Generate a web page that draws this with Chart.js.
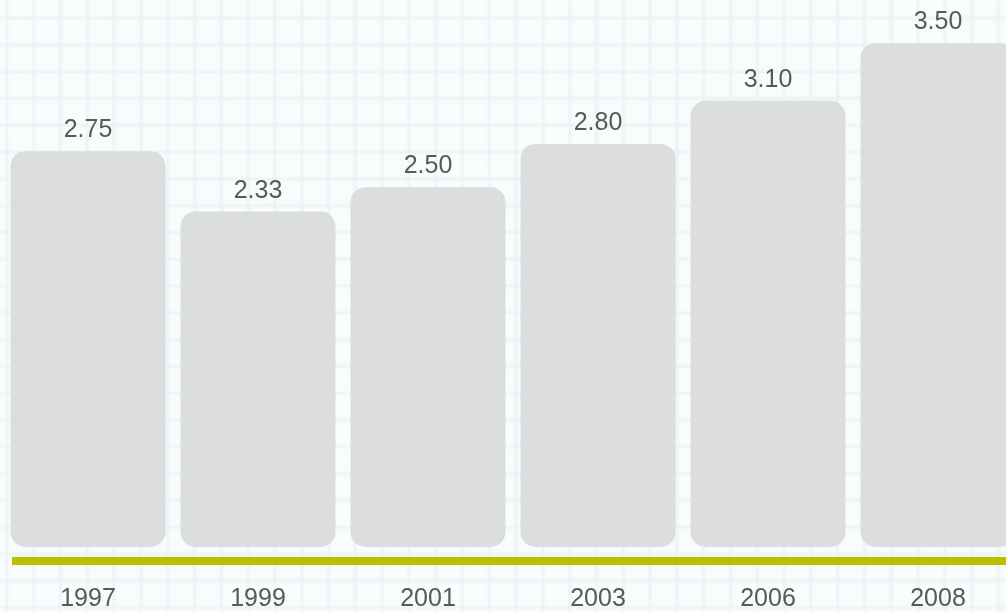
<!DOCTYPE html>
<html>
<head>
<meta charset="utf-8">
<script src="https://cdn.jsdelivr.net/npm/chart.js@4"></script>
<style>
  html, body {
    margin: 0;
    padding: 0;
    overflow: hidden;
    width: 1006px;
    height: 612px;
    background: #f9fcfc;
  }
  /* soft graph-paper backdrop */
  #paper {
    position: absolute;
    left: -10px;
    top: -10px;
    width: 1030px;
    height: 635px;
    background-image:
      linear-gradient(to right, #e5f0f2 2px, transparent 2px),
      linear-gradient(to bottom, #e5f0f2 2px, transparent 2px);
    background-size: 26.8px 26.8px;
    background-position: 16px 27px;
    filter: blur(0.9px);
  }
  #wrap {
    position: absolute;
    left: 0;
    top: 0;
    width: 1025px;
    height: 612px;
  }
</style>
</head>
<body>
<div id="paper"></div>
<div id="wrap"><canvas id="rate-chart"></canvas></div>
<script>
// survey years and the value for each
var years = ['1997', '1999', '2001', '2003', '2006', '2008'];
var rates = [2.75, 2.33, 2.50, 2.80, 3.10, 3.50];

var textColor = '#595959';
var fontFamily = '"Liberation Sans", Arial, Helvetica, sans-serif';

// value printed above each bar
var barValues = {
  id: 'barValues',
  afterDatasetsDraw: function (chart) {
    var ctx = chart.ctx;
    var meta = chart.getDatasetMeta(0);
    ctx.save();
    ctx.fillStyle = textColor;
    ctx.font = '25px ' + fontFamily;
    ctx.textAlign = 'center';
    ctx.textBaseline = 'alphabetic';
    meta.data.forEach(function (bar, i) {
      ctx.fillText(chart.data.datasets[0].data[i].toFixed(2), bar.x, bar.y - 14);
    });
    ctx.restore();
  }
};

// olive rule under the bars
var baseRule = {
  id: 'baseRule',
  afterDatasetsDraw: function (chart) {
    var ctx = chart.ctx;
    var y = chart.scales.y.getPixelForValue(0) + 14;
    ctx.save();
    ctx.strokeStyle = '#bdbe00';
    ctx.lineWidth = 8;
    ctx.beginPath();
    ctx.moveTo(chart.chartArea.left + 9, y);
    ctx.lineTo(chart.width, y);
    ctx.stroke();
    ctx.restore();
  }
};

var ctx = document.getElementById('rate-chart').getContext('2d');
var chart = new Chart(ctx, {
  type: 'bar',
  data: {
    labels: years,
    datasets: [{
      data: rates,
      backgroundColor: '#dcdddf',
      borderRadius: 15,
      borderSkipped: false,
      barPercentage: 0.912,
      categoryPercentage: 1
    }]
  },
  options: {
    responsive: true,
    maintainAspectRatio: false,
    animation: false,
    layout: {
      padding: { left: 3, right: 2, top: 0, bottom: 1 }
    },
    plugins: {
      legend: { display: false },
      tooltip: { enabled: false }
    },
    scales: {
      x: {
        grid: { display: false, drawTicks: false },
        border: { display: false },
        ticks: {
          color: textColor,
          padding: 37,
          font: { family: fontFamily, size: 25 }
        },
        afterFit: function (scale) {
          scale.height = 64;
        }
      },
      y: {
        display: false,
        min: 0,
        max: 3.8
      }
    }
  },
  plugins: [barValues, baseRule]
});
</script>
</body>
</html>
